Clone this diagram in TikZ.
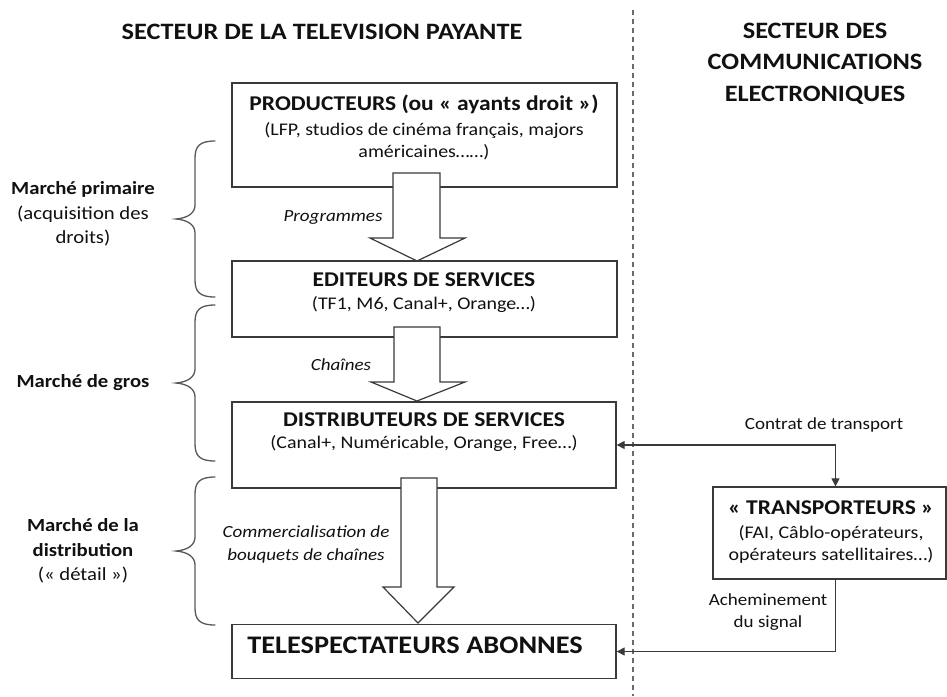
\documentclass[tikz,border=0pt]{standalone}
\usepackage{fontspec}
\setmainfont{Carlito}[FakeStretch=1.12]
\usetikzlibrary{arrows.meta,calc}
\definecolor{edge}{HTML}{3A3A3A}
\definecolor{ink}{HTML}{111111}
\tikzset{
  box/.style={draw=edge,line width=1.3pt,fill=white,inner sep=0pt},
  blockarrow/.style={draw=edge,line width=1.2pt,fill=white,line join=miter},
  conn/.style={draw=edge,line width=1.2pt,-{Triangle[length=8pt,width=8pt]}},
  conn2/.style={draw=edge,line width=1.2pt,{Triangle[length=8pt,width=8pt]}-{Triangle[length=8pt,width=8pt]}},
  brace/.style={draw=edge!85,line width=1.3pt,line cap=round},
  header/.style={font=\fontsize{23.5}{31.5}\selectfont\bfseries,text=ink,align=center,inner sep=0pt},
  btitle/.style={font=\fontsize{21}{24}\selectfont\bfseries,text=ink,inner sep=0pt},
  bsub/.style={font=\fontsize{17.8}{22}\selectfont,text=ink,align=center,inner sep=0pt},
  lab/.style={font=\fontsize{17}{23}\selectfont\itshape,text=ink,align=center,inner sep=0pt},
  side/.style={font=\fontsize{18.5}{24.5}\selectfont,text=ink,align=center,inner sep=0pt},
  plain/.style={font=\fontsize{17}{21.5}\selectfont,text=ink,align=center,inner sep=0pt}
}
\begin{document}
\begin{tikzpicture}[x=1pt,y=-1pt]
\useasboundingbox (0,0) rectangle (947,696);
\fill[white] (0,0) rectangle (947,696);
% dashed separator
\coordinate (sepTop) at (633,10);
\coordinate (sepBot) at (633,696);
\draw[edge!75,line width=1.6pt,dash pattern=on 5pt off 4pt] (sepTop) -- (sepBot);
% headers
\node[header] (h1) at (322,32) {SECTEUR DE LA TELEVISION PAYANTE};
\node[header] (h2) at (815,63.5) {SECTEUR DES\\COMMUNICATIONS\\ELECTRONIQUES};
% boxes
\node[box,minimum width=385pt,minimum height=104pt] (prod) at (424.5,135) {};
\node[box,minimum width=385pt,minimum height=76pt] (edit) at (424.5,299) {};
\node[box,minimum width=384pt,minimum height=86pt] (dist) at (424,445) {};
\node[box,minimum width=384pt,minimum height=54pt] (tele) at (424,651.5) {};
\node[box,minimum width=233pt,minimum height=92pt] (trans) at (829.5,533) {};
% box texts
\node[btitle] (prodT) at (424,104) {PRODUCTEURS (ou « ayants droit »)};
\node[bsub] (prodS) at (424,141) {(LFP, studios de cinéma français, majors\\américaines……)};
\node[btitle] (editT) at (424,280) {EDITEURS DE SERVICES};
\node[bsub] (editS) at (424,305) {(TF1, M6, Canal+, Orange…)};
\node[btitle] (distT) at (424,420) {DISTRIBUTEURS DE SERVICES};
\node[bsub] (distS) at (424,444) {(Canal+, Numéricable, Orange, Free…)};
\node[btitle,font=\fontsize{25.3}{28}\selectfont\bfseries] (teleT) at (415,645) {TELESPECTATEURS ABONNES};
\node[btitle] (transT) at (831,508) {« TRANSPORTEURS »};
\node[bsub] (transS) at (831,544) {(FAI, Câblo-opérateurs,\\opérateurs satellitaires…)};
% block arrows
\draw[blockarrow] (393,173) -- (440,173) -- (440,238) -- (465,238) -- (417,261) -- (370,238) -- (393,238) -- cycle;
\draw[blockarrow] (394,327) -- (440,327) -- (440,382) -- (465,382) -- (417,401) -- (371,382) -- (394,382) -- cycle;
\draw[blockarrow] (401,478) -- (437,478) -- (437,587) -- (454,587) -- (418,623) -- (383,587) -- (401,587) -- cycle;
% arrow labels
\node[lab] (l1) at (333,217) {Programmes};
\node[lab] (l2) at (341,365) {Chaînes};
\node[lab] (l3) at (306,544) {Commercialisation de\\bouquets de chaînes};
% connectors
\coordinate (tn) at ($(trans.north)+(6,0)$);
\coordinate (ts) at ($(trans.south)+(6,0)$);
\draw[conn2] (dist.east) -| (tn);
\draw[conn] (ts) |- (tele.east);
\node[plain] (c1) at (824,425) {Contrat de transport};
\node[plain] (c2) at (768,612) {Acheminement\\du signal};
% braces
\draw[brace] (215,141) .. controls (200,141) and (195,146) .. (195,158) -- (195,205) .. controls (195,213) and (188,218) .. (176,219)
  .. controls (188,220) and (195,225) .. (195,233) -- (195,280) .. controls (195,292) and (200,297) .. (215,297);
\draw[brace] (215,305) .. controls (200,305) and (195,310) .. (195,322) -- (195,369) .. controls (195,377) and (188,382) .. (176,383)
  .. controls (188,384) and (195,389) .. (195,397) -- (195,444) .. controls (195,456) and (200,461) .. (215,461);
\draw[brace] (215,477) .. controls (200,477) and (195,482) .. (195,494) -- (195,537) .. controls (195,545) and (188,550) .. (176,551)
  .. controls (188,552) and (195,557) .. (195,565) -- (195,608) .. controls (195,620) and (200,625) .. (215,625);
% side labels
\node[side] (s1) at (83,214) {\textbf{Marché primaire}\\(acquisition des\\droits)};
\node[side] (s2) at (83,383) {\textbf{Marché de gros}};
\node[side] (s3) at (83,551) {\textbf{Marché de la}\\\textbf{distribution}\\(« détail »)};
\end{tikzpicture}
\end{document}
